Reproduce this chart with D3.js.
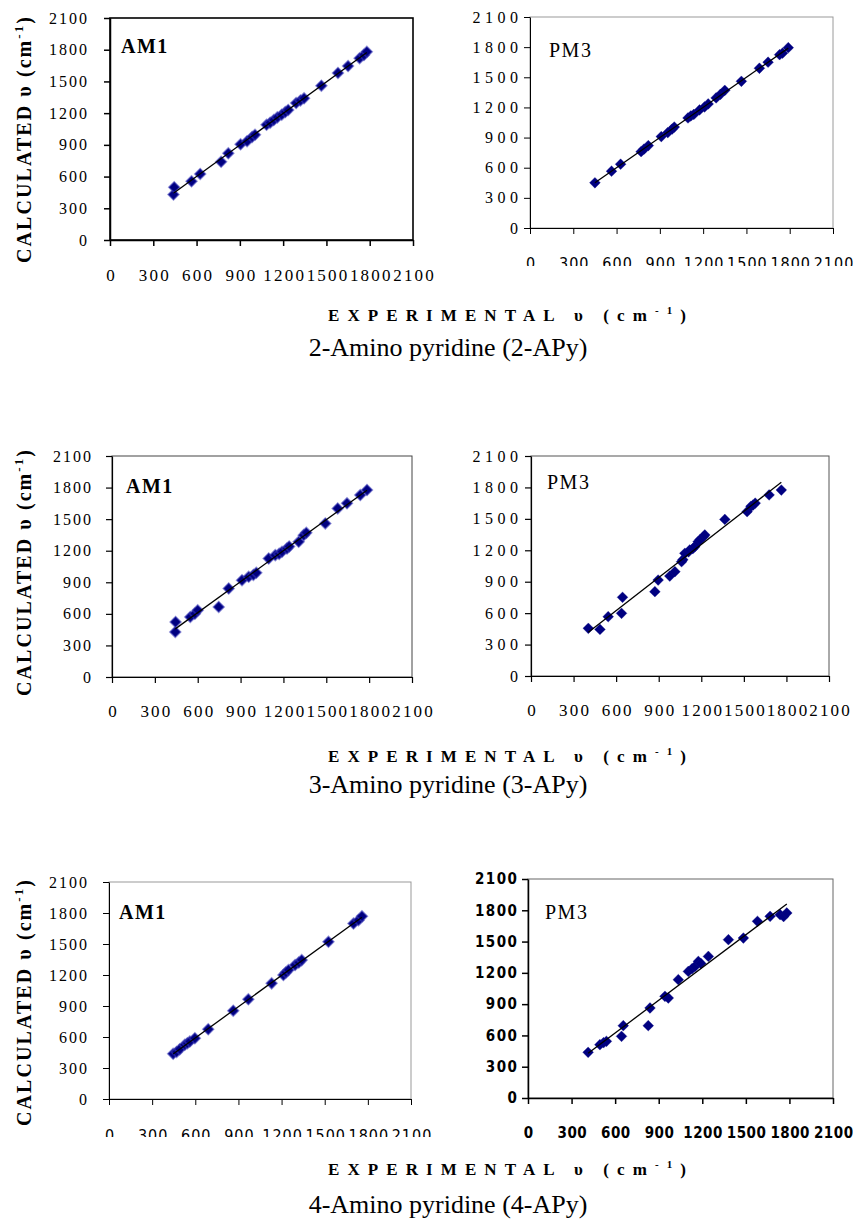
<!DOCTYPE html>
<html>
<head>
<meta charset="utf-8">
<script src="https://cdn.jsdelivr.net/npm/d3@7/dist/d3.min.js"></script>
<style>
  body { margin: 0; background: #fff; }
  svg { display: block; }
</style>
</head>
<body>
<svg id="chart" width="853" height="1221"></svg>
<script>
// tick values shared by every axis
var ticks = [0, 300, 600, 900, 1200, 1500, 1800, 2100];

// [experimental, calculated] wavenumbers
var apy2Am1 = [[440, 430], [445, 500], [565, 555], [625, 625], [770, 740], [820, 820], [905, 905],
  [950, 935], [985, 975], [1005, 995], [1085, 1090], [1110, 1110], [1135, 1135], [1160, 1160],
  [1190, 1185], [1215, 1210], [1235, 1230], [1290, 1295], [1320, 1320], [1345, 1340], [1465, 1460],
  [1580, 1580], [1650, 1645], [1730, 1720], [1760, 1750], [1780, 1780]];

var apy2Pm3 = [[450, 450], [565, 565], [628, 635], [770, 760], [790, 785], [820, 820], [910, 910],
  [955, 950], [985, 985], [1000, 1005], [1095, 1095], [1115, 1115], [1135, 1130], [1175, 1175],
  [1210, 1205], [1235, 1235], [1290, 1295], [1320, 1330], [1350, 1370], [1465, 1460], [1590, 1590],
  [1650, 1650], [1730, 1725], [1750, 1740], [1790, 1795]];

var apy3Am1 = [[443, 428], [445, 523], [548, 571], [580, 600], [600, 634], [747, 666], [817, 841],
  [910, 920], [957, 952], [990, 970], [1010, 990], [1097, 1126], [1143, 1158], [1170, 1170],
  [1190, 1190], [1225, 1221], [1240, 1240], [1307, 1285], [1342, 1348], [1360, 1370], [1493, 1459],
  [1580, 1602], [1645, 1650], [1738, 1729], [1785, 1777]];

var apy3Pm3 = [[404, 455], [486, 445], [544, 566], [638, 598], [645, 751], [873, 805], [896, 916],
  [978, 954], [1014, 996], [1061, 1091], [1070, 1110], [1084, 1171], [1110, 1185], [1119, 1203],
  [1140, 1215], [1154, 1234], [1178, 1282], [1190, 1300], [1215, 1330], [1225, 1346], [1366, 1495],
  [1523, 1569], [1550, 1620], [1565, 1632], [1580, 1650], [1678, 1728], [1764, 1775]];

var apy4Am1 = [[446, 437], [470, 455], [492, 482], [527, 524], [545, 540], [562, 556], [597, 588],
  [690, 675], [864, 855], [969, 965], [1131, 1119], [1213, 1199], [1230, 1225], [1248, 1248],
  [1294, 1296], [1320, 1320], [1340, 1344], [1526, 1521], [1700, 1698], [1735, 1730], [1759, 1768]];

var apy4Pm3 = [[414, 438], [495, 511], [520, 530], [540, 543], [644, 591], [656, 694], [828, 694],
  [840, 863], [943, 975], [966, 959], [1035, 1135], [1104, 1214], [1130, 1240], [1150, 1262],
  [1173, 1310], [1190, 1290], [1242, 1358], [1380, 1518], [1483, 1534], [1580, 1694], [1667, 1742],
  [1736, 1758], [1760, 1740], [1782, 1774]];

var methods = ["AM1", "PM3"];
var compounds = ["2-Amino pyridine (2-APy)", "3-Amino pyridine (3-APy)", "4-Amino pyridine (4-APy)"];

var SERIF = "'Liberation Serif', 'Times New Roman', serif";
var NARROW = "'Liberation Sans Narrow', 'DejaVu Sans Condensed', 'Arial Narrow', sans-serif";

// layout of the six plot boxes
var panels = [
  {data: apy2Am1, name: methods[0], bold: true, left: 110, right: 413, top: 18, bottom: 240,
    frame: "#000", frameW: 1.6, axisW: 1.5, labelDx: 11, labelDy: 35,
    xFont: SERIF, xSize: 17, xWeight: "normal", xLs: 2.2, xBase: 41,
    yFont: SERIF, ySize: 16, yWeight: "normal", yLs: 2, yGap: 23},
  {data: apy2Pm3, name: methods[1], bold: false, left: 530, right: 833, top: 17, bottom: 228,
    frame: "#9a9a9a", frameW: 1, axisW: 1, labelDx: 19, labelDy: 40,
    xFont: NARROW, xSize: 16, xWeight: "normal", xLs: 1, xBase: 41, xClip: 38,
    yFont: SERIF, ySize: 16, yWeight: "normal", yLs: 4.5, yGap: 12},
  {data: apy3Am1, name: methods[0], bold: true, left: 112, right: 412, top: 456, bottom: 677,
    frame: "#444", frameW: 1, axisW: 1.2, labelDx: 14, labelDy: 37,
    xFont: SERIF, xSize: 17, xWeight: "normal", xLs: 2.2, xBase: 40,
    yFont: SERIF, ySize: 16, yWeight: "normal", yLs: 2, yGap: 21},
  {data: apy3Pm3, name: methods[1], bold: false, left: 531, right: 829, top: 456, bottom: 676,
    frame: "#555", frameW: 1, axisW: 1.2, labelDx: 16, labelDy: 33,
    xFont: SERIF, xSize: 17, xWeight: "normal", xLs: 2.2, xBase: 40,
    yFont: SERIF, ySize: 16, yWeight: "normal", yLs: 4.5, yGap: 13},
  {data: apy4Am1, name: methods[0], bold: true, left: 109, right: 411, top: 882, bottom: 1099,
    frame: "#999", frameW: 1, axisW: 1, labelDx: 10, labelDy: 37,
    xFont: NARROW, xSize: 16, xWeight: "normal", xLs: 1, xBase: 42, xClip: 38,
    yFont: SERIF, ySize: 16, yWeight: "normal", yLs: 2, yGap: 22},
  {data: apy4Pm3, name: methods[1], bold: false, left: 528, right: 833, top: 879, bottom: 1098,
    frame: "#666", frameW: 1, axisW: 1.5, labelDx: 17, labelDy: 40,
    xFont: NARROW, xSize: 15, xWeight: "bold", xLs: 0.5, xBase: 40,
    yFont: NARROW, ySize: 15, yWeight: "bold", yLs: 1.5, yGap: 11}
];

// rows: shared axis titles and compound caption
var rows = [
  {caption: compounds[0], yMid: 140, titleY: 321, capY: 356},
  {caption: compounds[1], yMid: 573, titleY: 762, capY: 793},
  {caption: compounds[2], yMid: 1003, titleY: 1175, capY: 1213}
];

var svg = d3.select("#chart");

function linearFit(pts) {
  var mx = d3.mean(pts, function (d) { return d[0]; });
  var my = d3.mean(pts, function (d) { return d[1]; });
  var sxy = d3.sum(pts, function (d) { return (d[0] - mx) * (d[1] - my); });
  var sxx = d3.sum(pts, function (d) { return (d[0] - mx) * (d[0] - mx); });
  var b = sxy / sxx;
  return {b: b, a: my - b * mx};
}

panels.forEach(function (p, i) {
  var x = d3.scaleLinear().domain([0, 2100]).range([p.left, p.right]);
  var y = d3.scaleLinear().domain([0, 2100]).range([p.bottom, p.top]);
  var g = svg.append("g");

  // plot area border
  g.append("rect")
    .attr("x", x(0)).attr("y", y(2100))
    .attr("width", x(2100) - x(0)).attr("height", y(0) - y(2100))
    .attr("fill", "none")
    .attr("stroke", p.frame)
    .attr("stroke-width", p.frameW);

  // diamond markers
  g.selectAll("path.pt")
    .data(p.data)
    .enter().append("path")
    .attr("class", "pt")
    .attr("d", d3.symbol(d3.symbolSquare, 58))
    .attr("transform", function (d) {
      return "translate(" + x(d[0]) + "," + y(d[1]) + ") rotate(45)";
    })
    .attr("fill", "#000080")
    .attr("stroke", p.bold ? "#3a3ab8" : "#10108a")
    .attr("stroke-opacity", p.bold ? 0.55 : 0.4)
    .attr("stroke-width", p.bold ? 1.6 : 0.8);

  // linear trendline over the measured range
  var fit = linearFit(p.data);
  var xs = d3.extent(p.data, function (d) { return d[0]; });
  g.append("line")
    .attr("x1", x(xs[0])).attr("y1", y(fit.a + fit.b * xs[0]))
    .attr("x2", x(xs[1])).attr("y2", y(fit.a + fit.b * xs[1]))
    .attr("stroke", "#000")
    .attr("stroke-width", 1.3);

  // x axis
  var xa = g.append("g")
    .attr("transform", "translate(0," + p.bottom + ")")
    .call(d3.axisBottom(x).tickValues(ticks).tickFormat(d3.format("d"))
      .tickSize(6).tickSizeOuter(0)
      .tickPadding(p.xBase - 6 - 0.71 * p.xSize));
  xa.attr("font-family", p.xFont).attr("font-size", p.xSize).attr("font-weight", p.xWeight);
  xa.selectAll("text").style("letter-spacing", p.xLs + "px").attr("dx", p.xLs / 2);
  xa.selectAll("line, path").attr("stroke", "#000").attr("stroke-width", p.axisW);
  if (p.xClip) {
    // tick labels are cut off at the bottom in the source
    var cid = "clip" + i;
    svg.append("clipPath").attr("id", cid)
      .append("rect")
      .attr("x", -40).attr("y", -20)
      .attr("width", 80).attr("height", p.xClip + 20);
    xa.selectAll(".tick text").attr("clip-path", "url(#" + cid + ")");
  }

  // y axis
  var ya = g.append("g")
    .attr("transform", "translate(" + p.left + ",0)")
    .call(d3.axisLeft(y).tickValues(ticks).tickFormat(d3.format("d"))
      .tickSize(6).tickSizeOuter(0)
      .tickPadding(p.yGap - 6 - p.yLs));
  ya.attr("font-family", p.yFont).attr("font-size", p.ySize).attr("font-weight", p.yWeight);
  ya.selectAll("text").style("letter-spacing", p.yLs + "px");
  ya.selectAll("line, path").attr("stroke", "#000").attr("stroke-width", p.axisW);

  // method label inside the box
  g.append("text")
    .attr("x", p.left + p.labelDx)
    .attr("y", p.top + p.labelDy)
    .attr("font-family", SERIF)
    .attr("font-size", 20)
    .attr("font-weight", p.bold ? "bold" : "normal")
    .style("letter-spacing", "1.5px")
    .attr("fill", "#000")
    .text(p.name);
});

rows.forEach(function (r) {
  // vertical axis title
  var yt = svg.append("text")
    .attr("transform", "translate(31," + r.yMid + ") rotate(-90)")
    .attr("text-anchor", "middle")
    .attr("font-family", SERIF)
    .attr("font-size", 20)
    .attr("font-weight", "bold")
    .attr("textLength", 246)
    .attr("lengthAdjust", "spacing");
  yt.append("tspan").text("CALCULATED \u03C5 (cm");
  yt.append("tspan").attr("dy", -8).attr("font-size", 13).text("-1");
  yt.append("tspan").attr("dy", 8).text(")");

  // horizontal axis title
  var xt = svg.append("text")
    .attr("x", 507)
    .attr("y", r.titleY)
    .attr("text-anchor", "middle")
    .attr("font-family", SERIF)
    .attr("font-size", 17)
    .attr("font-weight", "bold")
    .attr("textLength", 358)
    .attr("lengthAdjust", "spacing");
  xt.append("tspan").text("EXPERIMENTAL \u03C5 (cm");
  xt.append("tspan").attr("dy", -7).attr("font-size", 11).text("-1");
  xt.append("tspan").attr("dy", 7).text(")");

  // compound caption
  svg.append("text")
    .attr("x", 448)
    .attr("y", r.capY)
    .attr("text-anchor", "middle")
    .attr("font-family", SERIF)
    .attr("font-size", 26)
    .attr("fill", "#000")
    .text(r.caption);
});
</script>
</body>
</html>
